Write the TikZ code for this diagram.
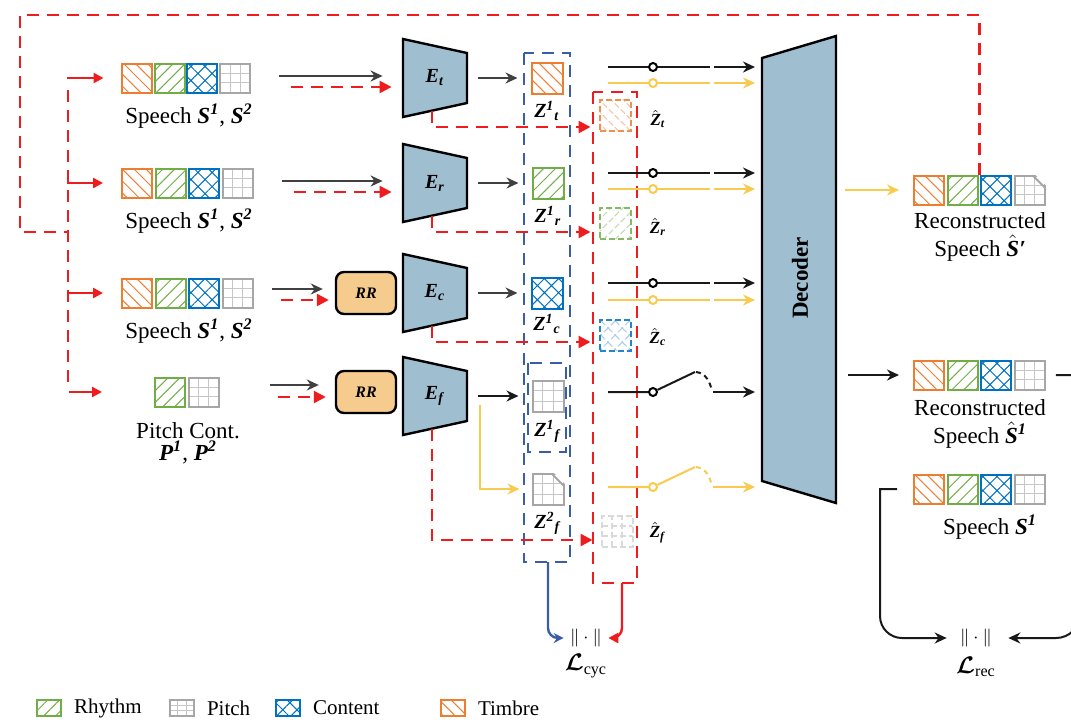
\documentclass[tikz,border=0pt]{standalone}
\usepackage{amsmath}
\usepackage{fontspec}
\setmainfont{Liberation Serif}
\usetikzlibrary{positioning,calc,arrows.meta,patterns.meta}

\definecolor{torange}{HTML}{ED7D31}
\definecolor{rgreen}{HTML}{70AD47}
\definecolor{cblue}{HTML}{0070C0}
\definecolor{pgray}{HTML}{A6A6A6}
\definecolor{encfill}{HTML}{9FBFD0}
\definecolor{rrfill}{HTML}{F6CB8E}
\definecolor{cycred}{HTML}{EE1C1C}
\definecolor{zblue}{HTML}{3A5DA8}
\definecolor{flowyel}{HTML}{F8CB4E}
\definecolor{arrgray}{HTML}{404040}

\newcommand{\bivar}[1]{\textbf{\textit{#1}}}

\tikzset{
  cell/.style={draw, line width=1pt, minimum width=15pt, minimum height=14.5pt, inner sep=0pt},
  zcell/.style={minimum width=15.5pt, minimum height=15.5pt},
  gridline/.style={draw=gray!45, line width=0.5pt},
  timbre/.style={cell, draw=torange, pattern={Lines[angle=-45,distance=4.2pt,line width=0.5pt]}, pattern color=torange},
  rhythm/.style={cell, draw=rgreen, pattern={Lines[angle=45,distance=4.2pt,line width=0.5pt]}, pattern color=rgreen},
  content/.style={cell, draw=cblue, pattern={Hatch[angle=45,distance=5pt,line width=0.5pt]}, pattern color=cblue},
  pitch/.style={cell, draw=pgray, path picture={
      \foreach \f in {0.333,0.667} {
        \draw[gridline] ($(path picture bounding box.south west)!\f!(path picture bounding box.south east)$)
          -- ($(path picture bounding box.north west)!\f!(path picture bounding box.north east)$);
        \draw[gridline] ($(path picture bounding box.south west)!\f!(path picture bounding box.north west)$)
          -- ($(path picture bounding box.south east)!\f!(path picture bounding box.north east)$);
      }}},
  foldpitch/.style={pitch},
  hatcell/.style={zcell, dash pattern=on 3pt off 1.5pt},
  hattimbre/.style={timbre, hatcell, draw=torange!85, pattern color=torange!45},
  hatrhythm/.style={rhythm, hatcell, draw=rgreen!85, pattern color=rgreen!45},
  hatcontent/.style={content, hatcell, draw=cblue!85, pattern color=cblue!35},
  hatpitch/.style={pitch, hatcell, draw=gray!30,
      gridline/.style={draw=gray!30, line width=0.8pt, dash pattern=on 3pt off 1.5pt}},
  legicon/.style={minimum width=12pt, minimum height=8pt, line width=0.6pt},
  encoder/.style={draw=black, line width=1.2pt, fill=encfill, line join=miter},
  enclabel/.style={minimum width=32pt, minimum height=24pt, inner sep=0pt,
      font=\fontsize{10}{12}\selectfont},
  rrbox/.style={draw, line width=1.2pt, fill=rrfill, rounded corners=4pt,
      minimum width=30pt, minimum height=21pt, inner sep=0pt,
      font=\fontsize{8}{10}\selectfont\bfseries\itshape},
  lab/.style={inner sep=0pt, align=center, font=\fontsize{11.5}{14}\selectfont},
  zlab/.style={inner sep=0pt, font=\fontsize{10}{12}\selectfont},
  hlab/.style={inner sep=0pt, font=\fontsize{8.5}{10}\selectfont},
  leg/.style={inner sep=0pt, font=\fontsize{10.5}{12}\selectfont},
  normlab/.style={inner sep=0pt, font=\fontsize{9.5}{11}\selectfont},
  knob/.style={circle, draw=black, line width=1pt, fill=white, inner sep=0pt, minimum size=4pt},
  yknob/.style={knob, draw=flowyel},
  blkflow/.style={draw=arrgray, line width=1pt, -{Stealth[length=6pt,width=5.5pt]}},
  swline/.style={draw=black!90, line width=1pt},
  swarrow/.style={swline, -{Stealth[length=6pt,width=5.5pt]}},
  yelline/.style={draw=flowyel, line width=1pt},
  yelflow/.style={yelline, -{Stealth[length=6pt,width=5.5pt]}},
  redline/.style={draw=cycred, line width=1.2pt, dash pattern=on 6pt off 4pt},
  redflow/.style={redline, -{Triangle[length=6pt,width=6pt]}},
  redsolid/.style={draw=cycred, line width=1.2pt, -{Triangle[length=5pt,width=5pt]}},
  zbox/.style={draw=zblue, line width=1.2pt, dash pattern=on 6pt off 4pt},
  bluesolid/.style={draw=zblue, line width=1.2pt, -{Stealth[length=5pt,width=5pt]}}
}

\begin{document}
\begin{tikzpicture}[x=0.5pt, y=-0.5pt]
\useasboundingbox (0,0) rectangle (1071,724);
\clip (0,0) rectangle (1071,724);

% encoders and decoder
\foreach \n/\y in {t/78, r/183, c/293, f/396} {
  \draw[encoder] (403,\y-39) -- (467,\y-25) -- (467,\y+25) -- (403,\y+39) -- cycle;
  \node[enclabel] (e\n) at (435,\y) {\bivar{E}\textsubscript{\bivar{\n}}};
  \coordinate (eb\n) at (432,\y+33);
}
\draw[encoder] (762,58) -- (836,36) -- (836,503) -- (762,481) -- cycle;
\node[rotate=90, inner sep=0pt, font=\fontsize{11.5}{13}\selectfont\bfseries] (dec) at (800,278) {Decoder};

% inputs
\foreach \n/\y in {1/78, 2/183, 3/293} {
  \node[timbre] (s\n a) at (137,\y) {};
  \node[rhythm, right=0.8pt of s\n a] (s\n b) {};
  \node[content, right=0.8pt of s\n b] (s\n c) {};
  \node[pitch, right=0.8pt of s\n c] (s\n d) {};
  \node[lab] (ls\n) at (189,\y+38) {Speech \bivar{S}\textsuperscript{\bivar{1}}, \bivar{S}\textsuperscript{\bivar{2}}};
}
\node[rhythm] (p4a) at (170,392) {};
\node[pitch, right=0.8pt of p4a] (p4b) {};
\node[lab, font=\fontsize{11.5}{10}\selectfont] (lp4) at (188,443) {Pitch Cont.\\[1pt] \bivar{P}\textsuperscript{\bivar{1}}, \bivar{P}\textsuperscript{\bivar{2}}};

\node[rrbox] (rr3) at (366,293) {RR};
\node[rrbox] (rr4) at (366,392) {RR};

% latent codes
\node[timbre, zcell] (zt) at (547,78) {};
\node[rhythm, zcell] (zr) at (548,183) {};
\node[content, zcell] (zc) at (547,293) {};
\node[pitch, zcell] (zf) at (548,396) {};
\node[foldpitch, zcell] (z2f) at (548,489) {};
\node[zlab] (lzt) at (547,111) {\bivar{Z}\textsuperscript{\bivar{1}}\textsubscript{\bivar{t}}};
\node[zlab] (lzr) at (548,216) {\bivar{Z}\textsuperscript{\bivar{1}}\textsubscript{\bivar{r}}};
\node[zlab] (lzc) at (547,324) {\bivar{Z}\textsuperscript{\bivar{1}}\textsubscript{\bivar{c}}};
\node[zlab] (lzf) at (548,431) {\bivar{Z}\textsuperscript{\bivar{1}}\textsubscript{\bivar{f}}};
\node[zlab] (lz2f) at (548,523) {\bivar{Z}\textsuperscript{\bivar{2}}\textsubscript{\bivar{f}}};

\node[hattimbre] (hzt) at (615,115) {};
\node[hatrhythm] (hzr) at (615,223) {};
\node[hatcontent] (hzc) at (615,335) {};
\node[hatpitch] (hzf) at (617,531) {};
\node[hlab] (lhzt) at (658,119) {$\hat{\mbox{\bivar{Z}}}$\textsubscript{\bivar{t}}};
\node[hlab] (lhzr) at (658,227) {$\hat{\mbox{\bivar{Z}}}$\textsubscript{\bivar{r}}};
\node[hlab] (lhzc) at (658,337) {$\hat{\mbox{\bivar{Z}}}$\textsubscript{\bivar{c}}};
\node[hlab] (lhzf) at (658,533) {$\hat{\mbox{\bivar{Z}}}$\textsubscript{\bivar{f}}};

\draw[zbox] (524,53) rectangle (570,562);
\draw[zbox] (528,363) rectangle (566,452);
\draw[redline] (593,92) rectangle (637,583);

% outputs
\foreach \n/\y in {1/190, 2/375, 3/489} {
  \node[timbre] (q\n a) at (929,\y) {};
  \node[rhythm, right=0.8pt of q\n a] (q\n b) {};
  \node[content, right=0.8pt of q\n b] (q\n c) {};
}
\node[foldpitch, right=0.8pt of q1c] (q1d) {};
\node[pitch, right=0.8pt of q2c] (q2d) {};
\node[pitch, right=0.8pt of q3c] (q3d) {};
\node[lab] (lq1) at (980,237) {Reconstructed\\Speech $\hat{\mbox{\bivar{S}}}$\bivar{′}};
\node[lab] (lq2) at (980,424) {Reconstructed\\Speech $\hat{\mbox{\bivar{S}}}$\textsuperscript{\bivar{1}}};
\node[lab] (lq3) at (990,527) {Speech \bivar{S}\textsuperscript{\bivar{1}}};

% folded corners
\foreach \n in {z2f, q1d} {
  \fill[white] ([xshift=-6pt,yshift=0.6pt]\n.north east) -- ([xshift=0.6pt,yshift=0.6pt]\n.north east)
    -- ([xshift=0.6pt,yshift=-6pt]\n.north east) -- cycle;
  \draw[pgray, line width=1pt] ([xshift=-6.5pt,yshift=-0.5pt]\n.north east) -- ([xshift=-0.5pt,yshift=-6.5pt]\n.north east);
}

\node[normlab] (cyc) at (586,638) {$\|\cdot\|$};
\node[lab] (lcyc) at (586,666) {$\boldsymbol{\mathcal{L}}$\textsubscript{cyc}};
\node[normlab] (rec) at (976,638) {$\|\cdot\|$};
\node[lab] (lrec) at (976,667) {$\boldsymbol{\mathcal{L}}$\textsubscript{rec}};

% feedback loop
\draw[redline] ([xshift=0.4pt]q1b.north east) |- (20,15) -- (20,232) -- (68,232);
\draw[redline] (68,90) -- (68,384);
\foreach \n in {s1a, s2a, s3a} {
  \draw[redsolid, shorten >=9pt] (\n.west -| 67,0) -- (\n.west);
}
\draw[redsolid, shorten >=26pt] (p4a.west -| 69,0) -- (p4a.west);

% inputs to encoders
\draw[blkflow] ([xshift=14pt,yshift=1pt]s1d.east) -- ([xshift=-10pt,yshift=1pt]et.west);
\draw[redflow] ([xshift=20pt,yshift=-4.5pt]s1d.east) -- ([xshift=-5.5pt,yshift=-4.5pt]et.west);
\draw[blkflow] ([xshift=14pt,yshift=1pt]s2d.east) -- ([xshift=-10pt,yshift=1pt]er.west);
\draw[redflow] ([xshift=20pt,yshift=-4.5pt]s2d.east) -- ([xshift=-5.5pt,yshift=-4.5pt]er.west);
\draw[blkflow] ([xshift=9pt,yshift=2pt]s3d.east) -- ([xshift=-6pt,yshift=2pt]rr3.west);
\draw[redflow] ([xshift=13.5pt,yshift=-3.5pt]s3d.east) -- ([xshift=-3pt,yshift=-3.5pt]rr3.west);
\draw[blkflow] ([xshift=25pt,yshift=3.5pt]p4b.east) -- ([xshift=-8pt,yshift=3.5pt]rr4.west);
\draw[redflow] ([xshift=29pt,yshift=-2.5pt]p4b.east) -- ([xshift=-4.5pt,yshift=-2.5pt]rr4.west);

% encoders to codes
\draw[blkflow] ([xshift=5.5pt]et.east) -- ([xshift=-6.5pt]zt.west);
\draw[blkflow] ([xshift=5.5pt]er.east) -- ([xshift=-6.5pt]zr.west);
\draw[blkflow] ([xshift=5.5pt]ec.east) -- ([xshift=-6.5pt]zc.west);
\draw[swarrow] ([xshift=5.5pt]ef.east) -- ([xshift=-6.5pt]zf.west);
\draw[yelflow, shorten >=6pt] ([xshift=6.5pt,yshift=-4.5pt]ef.east) |- (z2f.west);
\draw[redflow, shorten >=4pt] (ebt) |- ([yshift=-6pt]hzt.west);
\draw[redflow, shorten >=4pt] (ebr) |- ([yshift=-4.5pt]hzr.west);
\draw[redflow, shorten >=4pt] (ebc) |- ([yshift=-3.5pt]hzc.west);
\draw[redflow, shorten >=4pt] (ebf) |- ([yshift=-4.5pt]hzf.west);

% switches
\foreach \n/\y/\w in {t/67/83, r/173/189, c/283/300} {
  \node[knob] (k\n) at (653,\y) {};
  \node[yknob] (y\n) at (653,\w) {};
  \draw[swline] (608,\y) -- (k\n) -- (710,\y);
  \draw[swarrow] (714,\y) -- (755,\y);
  \draw[yelline] (608,\w) -- (y\n) -- (710,\w);
  \draw[yelflow] (714,\w) -- (755,\w);
}
\node[knob] (kf) at (653,392) {};
\node[yknob] (yf) at (653,487) {};
\draw[swline] (608,392) -- (kf) -- (695,372);
\draw[swline, dash pattern=on 2.5pt off 2pt] (696,372) .. controls (706,373) and (710,382) .. (712,391);
\draw[swarrow] (713,392) -- (755,392);
\draw[yelline] (608,487) -- (yf) -- (695,467);
\draw[yelline, dash pattern=on 2.5pt off 2pt] (696,467) .. controls (706,468) and (710,477) .. (712,486);
\draw[yelflow] (713,487) -- (755,487);

% decoder outputs and losses
\draw[yelflow, shorten >=7pt] (845,190) -- (q1a.west);
\draw[swarrow, shorten >=7pt] (848,375) -- (q2a.west);
\draw[swarrow, shorten >=6.5pt] ([xshift=-8pt]q3a.west) -- (880,489) -- (880,560) [rounded corners=11pt] -- (880,638) -- (rec.west);
\draw[swarrow, shorten >=8pt] ([xshift=5pt]q2d.east) -- (1080,375) -- (1080,560) [rounded corners=12pt] -- (1080,638) -- (rec.east);
\draw[bluesolid, shorten >=3pt, rounded corners=5pt] (548,562) |- (cyc.west);
\draw[redsolid, shorten >=3pt, rounded corners=5pt] (622,583) |- (cyc.east);

% legend
\node[rhythm, legicon] (kr) at (49,708) {};
\node[leg, right=6pt of kr] (lkr) {Rhythm};
\node[pitch, legicon] (kp) at (182,708) {};
\node[leg, right=6pt of kp] (lkp) {Pitch};
\node[content, legicon] (kc) at (288,708) {};
\node[leg, right=6pt of kc] (lkc) {Content};
\node[timbre, legicon] (kt) at (453,708) {};
\node[leg, right=6pt of kt] (lkt) {Timbre};
\end{tikzpicture}
\end{document}
